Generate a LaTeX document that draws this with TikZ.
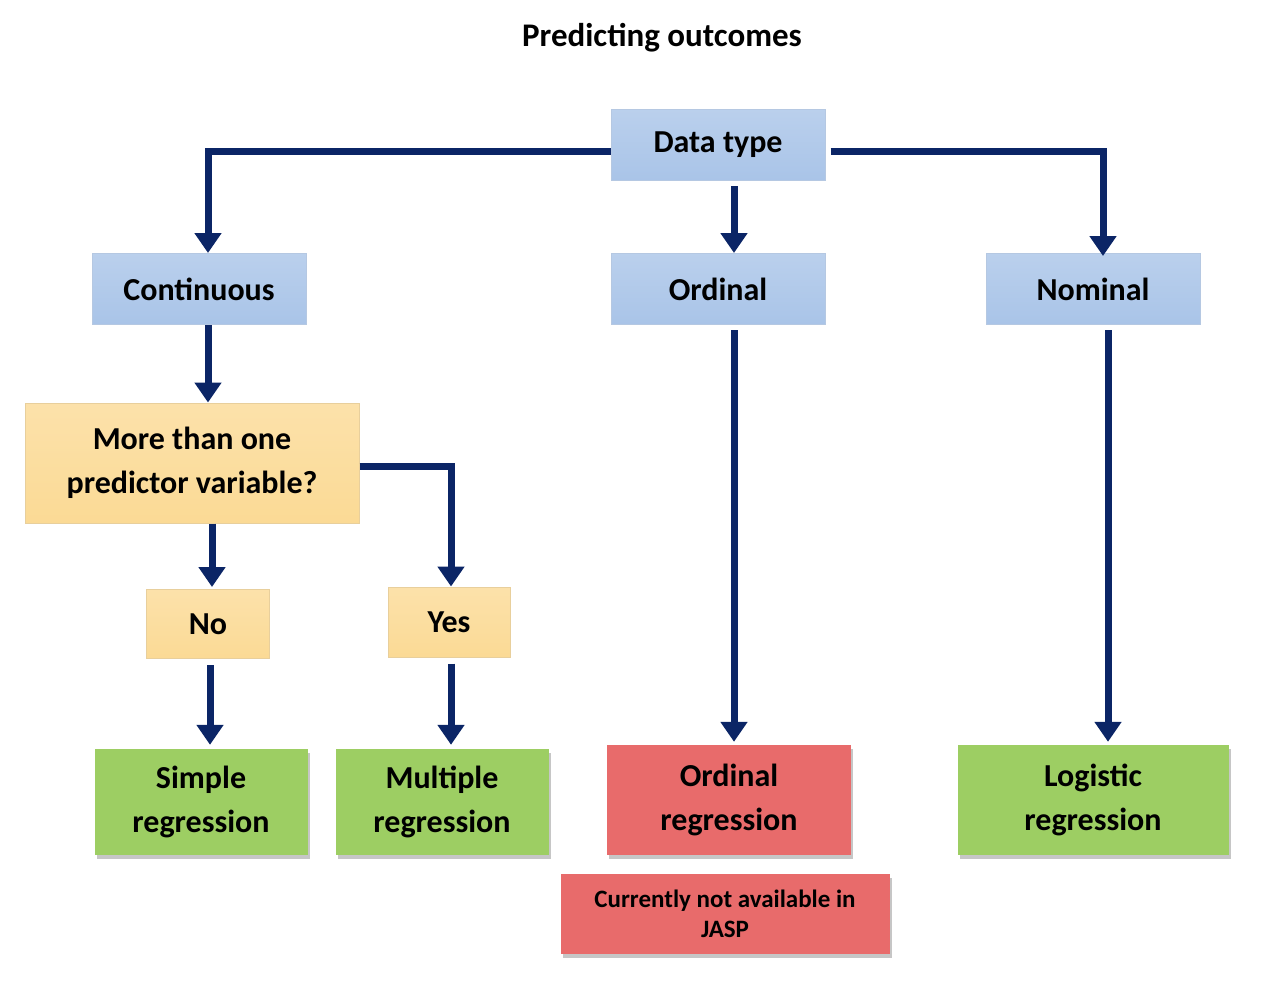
\documentclass[tikz,border=0pt]{standalone}
\usepackage{fontspec}
\setmainfont{Carlito}
\usepackage{xcolor}
\usetikzlibrary{arrows.meta,shadows}

\definecolor{navy}{HTML}{0B2566}
\definecolor{boxblue}{HTML}{A9C4E8}
\definecolor{edgeblue}{HTML}{B5C8E2}
\definecolor{boxyellow}{HTML}{FBDA95}
\definecolor{edgeyellow}{HTML}{E8CF9C}
\definecolor{boxgreen}{HTML}{9DCE63}
\definecolor{boxred}{HTML}{E86B6B}

\begin{document}
\begin{tikzpicture}[x=1pt, y=-1pt,
  arr/.style={draw=navy, line width=7pt, -{Triangle[width=26pt,length=20pt]}},
  type node/.style={draw=edgeblue, line width=1pt, top color=boxblue!80!white, bottom color=boxblue, minimum width=214pt, minimum height=71pt, font=\fontsize{32}{36}\selectfont\bfseries},
  ask node/.style={draw=edgeyellow, line width=1pt, top color=boxyellow!80!white, bottom color=boxyellow, align=center, font=\fontsize{32}{44}\selectfont\bfseries},
  method node/.style={fill=boxgreen, drop shadow={shadow xshift=2pt, shadow yshift=-4pt, opacity=0.45}, align=center, font=\fontsize{32}{44}\selectfont\bfseries},
  note node/.style={fill=boxred, drop shadow={shadow xshift=2pt, shadow yshift=-4pt, opacity=0.45}, align=center, font=\fontsize{25}{30}\selectfont\bfseries}]
\useasboundingbox (0,0) rectangle (1276,998);

\node[font=\fontsize{33}{36}\selectfont\bfseries] (title) at (662,38) {Predicting outcomes};

\node[type node] (dtype) at (718,145) {Data type};
\node[type node] (cont) at (199,289) {Continuous};
\node[type node] (ord) at (718,289) {Ordinal};
\node[type node] (nom) at (1093,289) {Nominal};

\node[ask node, minimum width=334pt, minimum height=120pt] (more) at (192,463) {More than one\\predictor variable?};
\node[ask node, minimum width=123pt, minimum height=69pt] (no) at (208,624) {No};
\node[ask node, minimum width=122pt, minimum height=70pt] (yes) at (449,622) {Yes};

\node[method node, minimum width=213pt, minimum height=106pt] (simple) at (201,802) {Simple\\regression};
\node[method node, minimum width=213pt, minimum height=106pt] (multi) at (442,802) {Multiple\\regression};
\node[method node, fill=boxred, minimum width=244pt, minimum height=110pt] (ordreg) at (729,800) {Ordinal\\regression};
\node[method node, minimum width=271pt, minimum height=110pt] (logit) at (1093,800) {Logistic\\regression};
\node[note node, minimum width=329pt, minimum height=80pt] (jasp) at (725,914) {Currently not available in\\JASP};

% connectors
\draw[arr] ([yshift=-6pt]dtype.west) -| ([xshift=9pt]cont.north);
\draw[arr] ([xshift=16pt,yshift=-5pt]dtype.south) -- ([xshift=16pt]ord.north);
\draw[arr] ([xshift=5pt,yshift=-6pt]dtype.east) -| ([xshift=10pt,yshift=-3pt]nom.north);
\draw[arr] ([xshift=9pt]cont.south) -- ([xshift=16pt]more.north);
\draw[arr] ([xshift=20pt]more.south) -- ([xshift=4pt,yshift=2pt]no.north);
\draw[arr] ([yshift=-3pt]more.east) -| ([xshift=2pt]yes.north);
\draw[arr] ([xshift=2pt,yshift=-6pt]no.south) -- ([xshift=9pt,yshift=4pt]simple.north);
\draw[arr] ([xshift=2pt,yshift=-6pt]yes.south) -- ([xshift=9pt,yshift=4pt]multi.north);
\draw[arr] ([xshift=16pt,yshift=-5pt]ord.south) -- ([xshift=5pt,yshift=3pt]ordreg.north);
\draw[arr] ([xshift=15pt,yshift=-5pt]nom.south) -- ([xshift=15pt,yshift=3pt]logit.north);
\end{tikzpicture}
\end{document}
